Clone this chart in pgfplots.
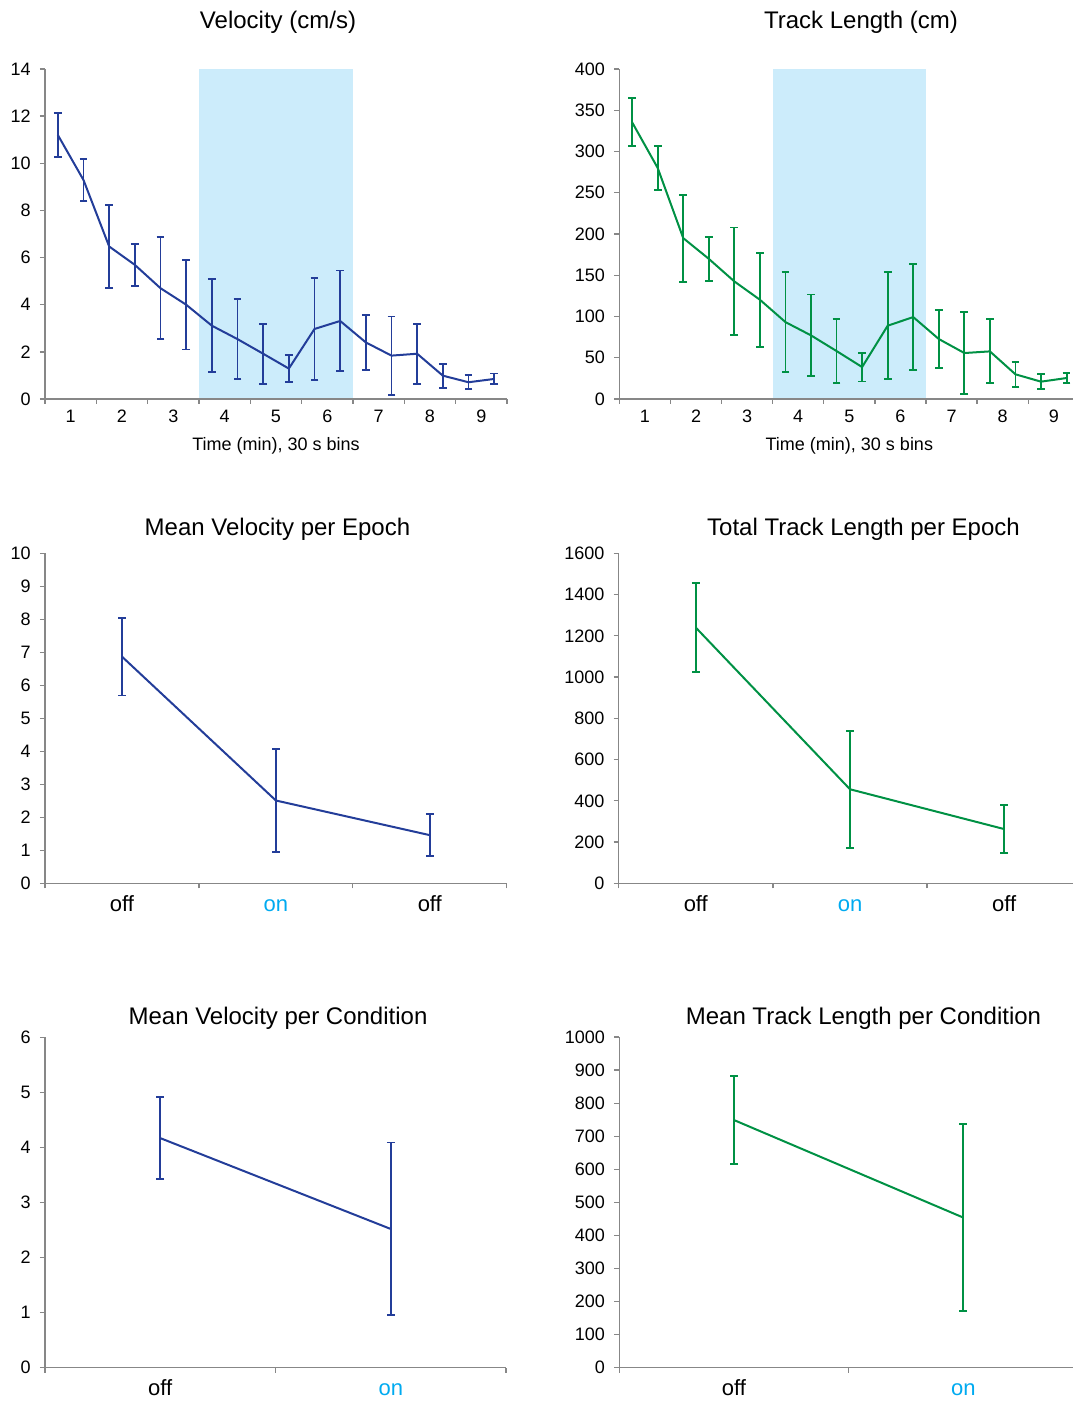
\documentclass[border=0pt]{standalone}
\usepackage{pgfplots}
\pgfplotsset{compat=1.18}
\usepackage{pgfplotstable}
\usepackage{fontspec}
\setmainfont{Liberation Sans}

\definecolor{velblue}{RGB}{35,61,153}
\definecolor{trkgreen}{RGB}{0,145,68}
\definecolor{shade}{RGB}{204,236,251}
\definecolor{onblue}{RGB}{0,170,240}
\definecolor{axisgray}{RGB}{135,135,135}

% per-bin data: x = bin centre (18 bins of 30 s), y = mean, e = error
\pgfplotstableread{
x    y      e
0.5  11.20  0.95
1.5  9.29   0.88
2.5  6.47   1.76
3.5  5.69   0.88
4.5  4.70   2.17
5.5  4.00   1.90
6.5  3.11   1.98
7.5  2.54   1.69
8.5  1.92   1.27
9.5  1.29   0.58
10.5 2.97   2.16
11.5 3.31   2.14
12.5 2.40   1.18
13.5 1.84   1.66
14.5 1.92   1.27
15.5 0.99   0.51
16.5 0.71   0.30
17.5 0.85   0.23
}\velbins

\pgfplotstableread{
x    y      e
0.5  335.4  29.0
1.5  280.1  26.5
2.5  195.0  52.7
3.5  169.9  26.7
4.5  142.5  65.4
5.5  120.3  56.9
6.5  93.2   60.2
7.5  77.1   49.6
8.5  58.1   39.0
9.5  38.7   17.5
10.5 88.8   65.0
11.5 99.3   64.6
12.5 72.7   35.4
13.5 55.7   50.0
14.5 57.7   38.8
15.5 29.9   15.2
16.5 21.0   9.1
17.5 25.4   6.3
}\trkbins

\pgfplotstableread{
x    y     e
0.5  6.87  1.18
1.5  2.51  1.57
2.5  1.46  0.63
}\velepoch

\pgfplotstableread{
x    y     e
0.5  1240  215
1.5  456   283
2.5  263   116
}\trkepoch

\pgfplotstableread{
x    y     e
0.5  4.17  0.74
1.5  2.52  1.57
}\velcond

\pgfplotstableread{
x    y    e
0.5  749  133
1.5  454  283
}\trkcond

\pgfplotsset{
  panel/.style={
    scale only axis, anchor=south west,
    axis lines=left,
    axis line style={draw=axisgray, line width=1pt, -},
    tick style={draw=axisgray, line width=1pt},
    tick align=outside,
    major tick length=3.75pt, minor tick length=3.75pt,
    major x tick style={draw=none},
    enlargelimits=false, ymin=0,
    axis on top,
    tick label style={font=\fontsize{13.5}{16}\selectfont},
    yticklabel style={xshift=-3.5pt},
    label style={font=\fontsize{13.5}{16}\selectfont},
    /pgf/number format/assume math mode=true,
    /pgf/number format/set thousands separator={},
    scaled y ticks=false,
  },
  timeaxis/.style={
    xmin=0, xmax=18,
    xtick={1,3,...,17},
    xticklabels={1,2,3,4,5,6,7,8,9},
    xticklabel style={yshift=-1pt},
    minor xtick={0,2,...,18},
    xlabel={Time (min), 30 s bins},
    xlabel style={yshift=-4.5pt},
  },
  cataxis/.style={
    xmin=0, xmax=#1,
    xtick={0.5,1.5,...,#1},
    minor xtick={0,1,...,#1},
    xticklabel style={font=\fontsize{16.5}{19}\selectfont,
      text height=0.72em, text depth=0.2em, yshift=-6.5pt},
  },
  series/.style={
    color=#1, line width=1.5pt, no markers,
    error bars/.cd, y dir=both, y explicit,
    error bar style={line width=1.4pt},
    error mark options={line width=1.4pt, mark size=2.9pt, rotate=90},
  },
}

\begin{document}
\begin{tikzpicture}
\useasboundingbox (0,0) rectangle (804pt,1051.5pt);

% ---- row 1 ----
\begin{axis}[panel, timeaxis, at={(33.75pt,752.25pt)},
  width=346.5pt, height=247.5pt, ymax=14, ytick={0,2,...,14}]
\addplot[draw=none, fill=shade] coordinates {(6,0) (6,14) (12,14) (12,0)} -- cycle;
\addplot[series=velblue] table[x=x, y=y, y error=e] {\velbins};
\end{axis}

\begin{axis}[panel, timeaxis, at={(464.5pt,752.25pt)},
  width=345pt, height=247.5pt, ymax=400, ytick={0,50,...,400}]
\addplot[draw=none, fill=shade] coordinates {(6,0) (6,400) (12,400) (12,0)} -- cycle;
\addplot[series=trkgreen] table[x=x, y=y, y error=e] {\trkbins};
\end{axis}

% ---- row 2 ----
\begin{axis}[panel, cataxis=3, at={(33.75pt,389pt)},
  width=346.3pt, height=247.5pt, ymax=10, ytick={0,1,...,10},
  xticklabels={off,\textcolor{onblue}{on},off}]
\addplot[series=velblue] table[x=x, y=y, y error=e] {\velepoch};
\end{axis}

\begin{axis}[panel, cataxis=3, at={(464pt,389pt)},
  width=347pt, height=247.5pt, ymax=1600, ytick={0,200,...,1600},
  xticklabels={off,\textcolor{onblue}{on},off}]
\addplot[series=trkgreen] table[x=x, y=y, y error=e] {\trkepoch};
\end{axis}

% ---- row 3 ----
\begin{axis}[panel, cataxis=2, at={(33.75pt,25.7pt)},
  width=345.75pt, height=247.8pt, ymax=6, ytick={0,1,...,6},
  xticklabels={off,\textcolor{onblue}{on}}]
\addplot[series=velblue] table[x=x, y=y, y error=e] {\velcond};
\end{axis}

\begin{axis}[panel, cataxis=2, at={(464.5pt,25.7pt)},
  width=344pt, height=248pt, ymax=1000, ytick={0,100,...,1000},
  xticklabels={off,\textcolor{onblue}{on}}]
\addplot[series=trkgreen] table[x=x, y=y, y error=e] {\trkcond};
\end{axis}

% ---- titles ----
\begin{scope}[every node/.style={font=\fontsize{18}{21}\selectfont}]
\node at (208.5pt,1035pt) {Velocity (cm/s)};
\node at (645.75pt,1035pt) {Track Length (cm)};
\node at (208.1pt,654.75pt) {Mean Velocity per Epoch};
\node at (647.6pt,654.75pt) {Total Track Length per Epoch};
\node at (208.5pt,288pt) {Mean Velocity per Condition};
\node at (647.6pt,288pt) {Mean Track Length per Condition};
\end{scope}
\end{tikzpicture}
\end{document}
